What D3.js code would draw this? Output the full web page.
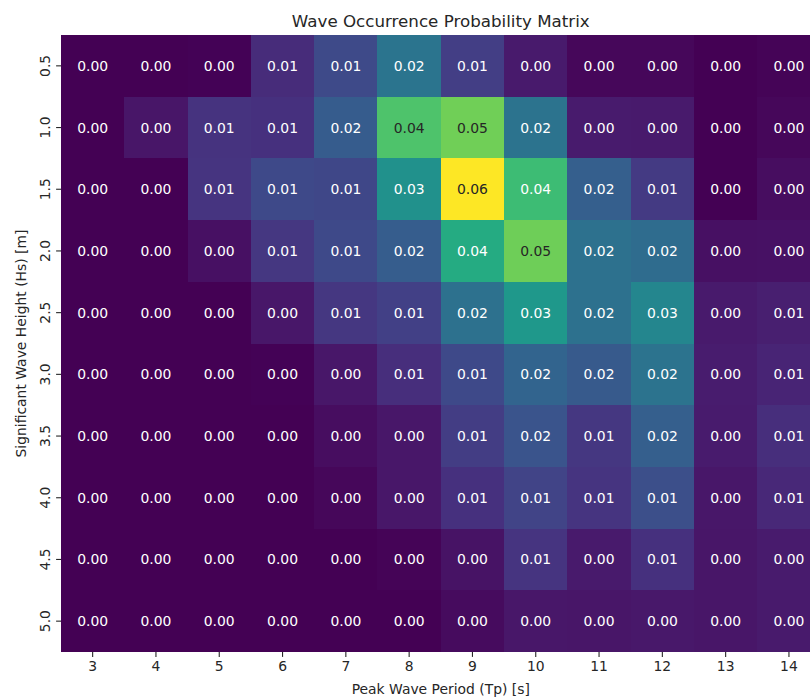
<!DOCTYPE html>
<html>
<head>
<meta charset="utf-8">
<script src="https://cdn.jsdelivr.net/npm/d3@7"></script>
<style>
  html, body { margin: 0; padding: 0; background: #ffffff; }
  svg { display: block; overflow: hidden; font-family: "DejaVu Sans", sans-serif; }
</style>
</head>
<body>
<svg id="chart" width="810" height="698"></svg>
<script>
// Peak wave period bins (columns) and significant wave height bins (rows)
const periods = [3, 4, 5, 6, 7, 8, 9, 10, 11, 12, 13, 14];
const heights = ["0.5", "1.0", "1.5", "2.0", "2.5", "3.0", "3.5", "4.0", "4.5", "5.0"];

// Occurrence probability per Hs row, one value per Tp column
const hs05 = [0.0002, 0.0002, 0.0004, 0.0076, 0.0140, 0.0238, 0.0112, 0.0042, 0.0010, 0.0010, 0.0002, 0.0006];
const hs10 = [0.0002, 0.0036, 0.0092, 0.0086, 0.0178, 0.0446, 0.0486, 0.0236, 0.0046, 0.0043, 0.0002, 0.0010];
const hs15 = [0.0001, 0.0001, 0.0094, 0.0136, 0.0133, 0.0312, 0.0620, 0.0424, 0.0186, 0.0106, 0.0002, 0.0020];
const hs20 = [0.0001, 0.0001, 0.0025, 0.0099, 0.0136, 0.0180, 0.0380, 0.0484, 0.0230, 0.0217, 0.0025, 0.0028];
const hs25 = [0.0001, 0.0001, 0.0002, 0.0037, 0.0099, 0.0118, 0.0230, 0.0330, 0.0230, 0.0285, 0.0043, 0.0053];
const hs30 = [0.0000, 0.0000, 0.0001, 0.0003, 0.0037, 0.0080, 0.0136, 0.0198, 0.0174, 0.0236, 0.0047, 0.0062];
const hs35 = [0.0000, 0.0000, 0.0000, 0.0001, 0.0020, 0.0037, 0.0110, 0.0160, 0.0099, 0.0186, 0.0046, 0.0080];
const hs40 = [0.0000, 0.0000, 0.0000, 0.0000, 0.0012, 0.0037, 0.0087, 0.0124, 0.0093, 0.0149, 0.0037, 0.0068];
const hs45 = [0.0000, 0.0000, 0.0000, 0.0000, 0.0002, 0.0006, 0.0030, 0.0093, 0.0043, 0.0087, 0.0034, 0.0046];
const hs50 = [0.0000, 0.0000, 0.0000, 0.0000, 0.0001, 0.0002, 0.0019, 0.0037, 0.0035, 0.0040, 0.0035, 0.0043];

const matrix = [hs05, hs10, hs15, hs20, hs25, hs30, hs35, hs40, hs45, hs50];

const titleText = "Wave Occurrence Probability Matrix";
const xLabel = "Peak Wave Period (Tp) [s]";
const yLabel = "Significant Wave Height (Hs) [m]";

// Layout of the heatmap axes (the matrix runs past the right edge of the page)
const margin = { left: 61, top: 35 };
const cellW = 63.3, cellH = 61.7;
const plotW = cellW * periods.length;
const plotH = cellH * heights.length;
const ink = "#262626";

const svg = d3.select("#chart");

const x = d3.scaleBand().domain(periods).range([margin.left, margin.left + plotW]);
const y = d3.scaleBand().domain(heights).range([margin.top, margin.top + plotH]);

const flat = [];
matrix.forEach((row, i) => row.forEach((v, j) => flat.push({ h: heights[i], p: periods[j], v })));

const color = d3.scaleSequential(d3.interpolateViridis)
  .domain([d3.min(flat, d => d.v), d3.max(flat, d => d.v)]);

// Relative luminance used to pick a readable annotation colour
function luminance(c) {
  const rgb = d3.rgb(c);
  const ch = [rgb.r, rgb.g, rgb.b].map(u => {
    u /= 255;
    return u <= 0.03928 ? u / 12.92 : Math.pow((u + 0.055) / 1.055, 2.4);
  });
  return 0.2126 * ch[0] + 0.7152 * ch[1] + 0.0722 * ch[2];
}

// Cells, snapped to whole pixels so neighbours meet without seams
svg.append("g")
  .attr("shape-rendering", "crispEdges")
  .selectAll("rect")
  .data(flat)
  .join("rect")
  .attr("x", d => Math.round(x(d.p)))
  .attr("y", d => Math.round(y(d.h)))
  .attr("width", d => Math.round(x(d.p) + x.bandwidth()) - Math.round(x(d.p)))
  .attr("height", d => Math.round(y(d.h) + y.bandwidth()) - Math.round(y(d.h)))
  .attr("fill", d => color(d.v));

// Annotations
svg.append("g")
  .selectAll("text")
  .data(flat)
  .join("text")
  .attr("x", d => x(d.p) + x.bandwidth() / 2)
  .attr("y", d => y(d.h) + y.bandwidth() / 2)
  .attr("text-anchor", "middle")
  .attr("dominant-baseline", "central")
  .attr("font-size", "13.9px")
  .attr("fill", d => luminance(color(d.v)) > 0.408 ? ink : "#ffffff")
  .text(d => d.v.toFixed(2));

// X axis
const xAxis = svg.append("g")
  .attr("transform", `translate(0,${margin.top + plotH})`)
  .call(d3.axisBottom(x).tickSize(4.9).tickPadding(4.5));
xAxis.select(".domain").remove();
xAxis.selectAll(".tick line").attr("stroke", ink).attr("stroke-width", 1.1);
xAxis.selectAll(".tick text")
  .attr("fill", ink)
  .attr("font-size", "13.9px")
  .attr("font-family", "DejaVu Sans, sans-serif");

// Y axis with vertical tick labels
const yAxis = svg.append("g")
  .attr("transform", `translate(${margin.left},0)`)
  .call(d3.axisLeft(y).tickSize(4.9).tickPadding(0));
yAxis.select(".domain").remove();
yAxis.selectAll(".tick line").attr("stroke", ink).attr("stroke-width", 1.1);
yAxis.selectAll(".tick text")
  .attr("fill", ink)
  .attr("font-size", "13.9px")
  .attr("font-family", "DejaVu Sans, sans-serif")
  .attr("x", null)
  .attr("dy", null)
  .attr("text-anchor", "middle")
  .attr("transform", "translate(-11.5,0) rotate(-90)");

// Title and axis labels
svg.append("text")
  .attr("x", margin.left + plotW / 2)
  .attr("y", 27)
  .attr("text-anchor", "middle")
  .attr("font-size", "16.7px")
  .attr("fill", ink)
  .text(titleText);

svg.append("text")
  .attr("x", margin.left + plotW / 2)
  .attr("y", 693.5)
  .attr("text-anchor", "middle")
  .attr("font-size", "13.9px")
  .attr("fill", ink)
  .text(xLabel);

svg.append("text")
  .attr("transform", `translate(25.5,${margin.top + plotH / 2}) rotate(-90)`)
  .attr("text-anchor", "middle")
  .attr("font-size", "13.9px")
  .attr("fill", ink)
  .text(yLabel);
</script>
</body>
</html>
